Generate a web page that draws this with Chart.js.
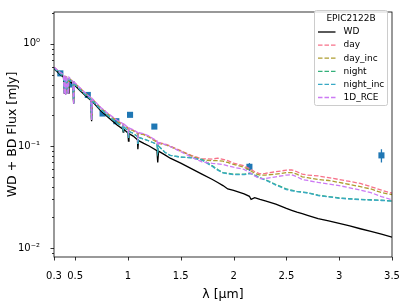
<!DOCTYPE html>
<html>
<head>
<meta charset="utf-8">
<script src="https://cdn.jsdelivr.net/npm/chart.js@4.4.1/dist/chart.umd.min.js"></script>
<style>
  html, body { margin: 0; padding: 0; background: #fff; }
  #sed { display: block; }
</style>
</head>
<body>
<canvas id="sed" width="407" height="302"></canvas>
<script>
// wavelength grid [micron] shared by the WD and the WD+BD models
const wave = [
  0.300, 0.360, 0.390, 0.397, 0.403, 0.410, 0.418, 0.434, 0.442, 0.478,
  0.486, 0.494, 0.550, 0.620, 0.648, 0.656, 0.664, 0.740, 0.820, 0.900,
  0.950, 0.955, 0.960, 1.000, 1.005, 1.010, 1.050, 1.090, 1.094, 1.100,
  1.150, 1.200, 1.275, 1.282, 1.290, 1.350, 1.400, 1.500, 1.600, 1.700,
  1.800, 1.850, 1.900, 1.945, 2.000, 2.100, 2.150, 2.166, 2.200, 2.250,
  2.300, 2.400, 2.500, 2.550, 2.600, 2.650, 2.700, 2.800, 2.900, 3.000,
  3.100, 3.200, 3.300, 3.400, 3.500
];

const wdFlux = [
  0.570, 0.500, 0.472, 0.330, 0.465, 0.320, 0.455, 0.330, 0.440, 0.405,
  0.260, 0.396, 0.345, 0.296, 0.280, 0.175, 0.272, 0.222, 0.188, 0.160,
  0.147, 0.137, 0.146, 0.134, 0.112, 0.132, 0.125, 0.115, 0.093, 0.113,
  0.106, 0.100, 0.090, 0.069, 0.089, 0.082, 0.076, 0.068, 0.060, 0.053,
  0.047, 0.044, 0.041, 0.0380, 0.0368, 0.034, 0.0322, 0.0300, 0.0312, 0.0300,
  0.0290, 0.0270, 0.0245, 0.0235, 0.0226, 0.0218, 0.0210, 0.0195, 0.0185, 0.0175,
  0.0165, 0.0155, 0.0146, 0.0137, 0.0128
];

const dayFlux = [
  0.590, 0.520, 0.495, 0.340, 0.490, 0.330, 0.480, 0.340, 0.465, 0.425,
  0.265, 0.415, 0.365, 0.312, 0.296, 0.180, 0.288, 0.238, 0.203, 0.176,
  0.165, 0.158, 0.164, 0.151, 0.137, 0.149, 0.143, 0.135, 0.121, 0.134,
  0.131, 0.124, 0.111, 0.100, 0.108, 0.105, 0.100, 0.090, 0.081, 0.075,
  0.0745, 0.076, 0.074, 0.072, 0.068, 0.064, 0.060, 0.059, 0.056, 0.0535,
  0.054, 0.056, 0.058, 0.0585, 0.056, 0.053, 0.052, 0.051, 0.049, 0.047,
  0.045, 0.043, 0.040, 0.037, 0.0345
];

const dayIncFlux = [
  0.588, 0.518, 0.493, 0.338, 0.488, 0.328, 0.478, 0.338, 0.463, 0.423,
  0.264, 0.413, 0.363, 0.310, 0.294, 0.179, 0.286, 0.236, 0.201, 0.174,
  0.163, 0.156, 0.162, 0.149, 0.135, 0.147, 0.141, 0.133, 0.119, 0.132,
  0.129, 0.122, 0.109, 0.098, 0.106, 0.103, 0.099, 0.089, 0.080, 0.073,
  0.072, 0.072, 0.071, 0.069, 0.066, 0.062, 0.058, 0.057, 0.054, 0.052,
  0.052, 0.053, 0.055, 0.055, 0.053, 0.050, 0.049, 0.047, 0.046, 0.044,
  0.042, 0.040, 0.038, 0.035, 0.0334
];

const nightFlux = [
  0.580, 0.510, 0.482, 0.335, 0.476, 0.325, 0.466, 0.335, 0.451, 0.414,
  0.262, 0.405, 0.354, 0.303, 0.287, 0.177, 0.279, 0.229, 0.195, 0.167,
  0.155, 0.145, 0.154, 0.141, 0.120, 0.139, 0.133, 0.124, 0.103, 0.122,
  0.117, 0.112, 0.104, 0.088, 0.100, 0.087, 0.081, 0.078, 0.077, 0.074,
  0.064, 0.059, 0.055, 0.054, 0.053, 0.053, 0.054, 0.054, 0.052, 0.049,
  0.047, 0.042, 0.038, 0.037, 0.036, 0.0355, 0.035, 0.033, 0.032, 0.031,
  0.0305, 0.030, 0.0298, 0.0295, 0.029
];

const nightIncFlux = [
  0.580, 0.510, 0.482, 0.335, 0.476, 0.325, 0.466, 0.335, 0.451, 0.414,
  0.262, 0.405, 0.354, 0.303, 0.287, 0.177, 0.279, 0.229, 0.195, 0.167,
  0.155, 0.145, 0.154, 0.141, 0.120, 0.139, 0.133, 0.124, 0.103, 0.122,
  0.117, 0.112, 0.104, 0.088, 0.100, 0.087, 0.081, 0.078, 0.0765, 0.073,
  0.063, 0.058, 0.0545, 0.0535, 0.0525, 0.0525, 0.0535, 0.0535, 0.0515, 0.0485,
  0.0465, 0.0415, 0.0375, 0.0365, 0.0358, 0.0352, 0.0347, 0.0328, 0.0318, 0.0308,
  0.0303, 0.0299, 0.0296, 0.0293, 0.0289
];

const rceFlux = [
  0.590, 0.525, 0.500, 0.320, 0.495, 0.315, 0.485, 0.320, 0.470, 0.430,
  0.255, 0.420, 0.368, 0.314, 0.298, 0.180, 0.290, 0.240, 0.205, 0.178,
  0.166, 0.159, 0.165, 0.152, 0.138, 0.150, 0.144, 0.136, 0.122, 0.135,
  0.132, 0.125, 0.112, 0.101, 0.108, 0.104, 0.099, 0.088, 0.078, 0.070,
  0.0675, 0.067, 0.066, 0.064, 0.062, 0.059, 0.055, 0.054, 0.051, 0.048,
  0.048, 0.050, 0.052, 0.0522, 0.050, 0.047, 0.046, 0.044, 0.0425, 0.041,
  0.039, 0.037, 0.035, 0.032, 0.0298
];

// photometry
const photWave = [0.36, 0.47, 0.62, 0.76, 0.89, 1.02, 1.25, 2.15, 3.40];
const photFlux = [0.514, 0.400, 0.316, 0.208, 0.175, 0.202, 0.155, 0.0626, 0.081];
const photErr  = [0.004, 0.004, 0.003, 0.002, 0.002, 0.002, 0.002, 0.0055, 0.012];

const xTicks = [0.3, 0.5, 1, 1.5, 2, 2.5, 3, 3.5];
const yTicks = [0.01, 0.1, 1];
const yTickLabels = ['10\u207B\u00B2', '10\u207B\u00B9', '10\u2070'];

const legendTitle = 'EPIC2122B';
const legendOrder = ['WD', 'day', 'day_inc', 'night', 'night_inc', '1D_RCE'];

const FONT = "'DejaVu Sans', sans-serif";
Chart.defaults.font.family = FONT;
Chart.defaults.color = '#000';

function pts(ys) {
  return wave.map((x, i) => ({ x: x, y: ys[i] }));
}

function model(label, ys, color) {
  return {
    label: label,
    data: pts(ys),
    showLine: true,
    borderColor: color,
    borderWidth: 1.3,
    borderDash: [4.5, 2],
    pointRadius: 0,
    fill: false
  };
}

// errorbars under the squares
const errorBars = {
  id: 'errorBars',
  beforeDatasetsDraw(chart) {
    const { ctx, scales: { x, y } } = chart;
    ctx.save();
    ctx.strokeStyle = '#1f77b4';
    ctx.lineWidth = 1.3;
    photWave.forEach((w, i) => {
      const px = x.getPixelForValue(w);
      ctx.beginPath();
      ctx.moveTo(px, y.getPixelForValue(photFlux[i] - photErr[i]));
      ctx.lineTo(px, y.getPixelForValue(photFlux[i] + photErr[i]));
      ctx.stroke();
    });
    ctx.restore();
  }
};

// frame, matplotlib-style ticks and the legend box
const frame = {
  id: 'frame',
  afterDraw(chart) {
    const { ctx, chartArea: a, scales: { x, y } } = chart;
    ctx.save();
    ctx.strokeStyle = '#000';
    ctx.lineWidth = 0.8;
    ctx.strokeRect(a.left, a.top, a.right - a.left, a.bottom - a.top);

    ctx.beginPath();
    xTicks.forEach(v => {
      const px = Math.round(x.getPixelForValue(v)) + 0.5;
      ctx.moveTo(px, a.bottom);
      ctx.lineTo(px, a.bottom + 3.5);
    });
    for (let e = -3; e <= 0; e++) {
      for (let m = 1; m <= 9; m++) {
        const v = m * Math.pow(10, e);
        if (v < y.min || v > y.max) continue;
        const py = Math.round(y.getPixelForValue(v)) + 0.5;
        ctx.moveTo(a.left, py);
        ctx.lineTo(a.left - (m === 1 ? 3.5 : 2), py);
      }
    }
    ctx.stroke();

    // legend
    const bx = 314.5, by = 10.5, bw = 73, bh = 95;
    ctx.fillStyle = 'rgba(255,255,255,0.8)';
    ctx.strokeStyle = '#cccccc';
    ctx.lineWidth = 1;
    ctx.beginPath();
    ctx.roundRect(bx, by, bw, bh, 2);
    ctx.fill();
    ctx.stroke();

    ctx.fillStyle = '#000';
    ctx.font = '9px ' + FONT;
    ctx.textAlign = 'center';
    ctx.textBaseline = 'middle';
    ctx.fillText(legendTitle, bx + bw / 2, by + 8);
    ctx.textAlign = 'left';
    legendOrder.forEach((lab, i) => {
      const ds = chart.data.datasets.find(d => d.label === lab);
      const ly = by + 21.5 + i * 13.1;
      ctx.strokeStyle = ds.borderColor;
      ctx.lineWidth = 1.3;
      ctx.setLineDash(ds.borderDash || []);
      ctx.beginPath();
      ctx.moveTo(bx + 3.5, ly);
      ctx.lineTo(bx + 21, ly);
      ctx.stroke();
      ctx.setLineDash([]);
      ctx.fillText(lab, bx + 29, ly);
    });
    ctx.restore();
  }
};

new Chart(document.getElementById('sed'), {
  type: 'scatter',
  data: {
    datasets: [
      model('1D_RCE', rceFlux, '#cc7af4'),
      model('night_inc', nightIncFlux, '#38a9c5'),
      model('night', nightFlux, '#33b07a'),
      model('day_inc', dayIncFlux, '#ae9d31'),
      model('day', dayFlux, '#f77189'),
      {
        label: 'WD',
        data: pts(wdFlux),
        showLine: true,
        borderColor: '#000000',
        borderWidth: 1.3,
        pointRadius: 0,
        fill: false
      },
      {
        label: 'phot',
        data: photWave.map((w, i) => ({ x: w, y: photFlux[i] })),
        showLine: false,
        pointStyle: 'rect',
        pointRadius: 4.3,
        pointBackgroundColor: '#1f77b4',
        pointBorderWidth: 0,
        borderColor: '#1f77b4'
      }
    ]
  },
  options: {
    responsive: false,
    animation: false,
    layout: { padding: { left: 0, right: 15, top: 5, bottom: 0 } },
    plugins: {
      legend: { display: false },
      tooltip: { enabled: false }
    },
    scales: {
      x: {
        type: 'linear',
        min: 0.3,
        max: 3.5,
        afterBuildTicks(scale) { scale.ticks = xTicks.map(v => ({ value: v })); },
        afterFit(scale) { scale.height = 45; },
        grid: { display: false },
        border: { display: false },
        ticks: {
          autoSkip: false,
          maxRotation: 0,
          padding: 5,
          font: { size: 10 },
          callback: v => String(v)
        },
        title: {
          display: true,
          text: '\u03BB [\u03BCm]',
          font: { size: 12.5 },
          padding: { top: 0, bottom: 0 }
        }
      },
      y: {
        type: 'logarithmic',
        min: 0.0082,
        max: 2.05,
        afterBuildTicks(scale) { scale.ticks = yTicks.map(v => ({ value: v })); },
        afterFit(scale) { scale.width = 54; },
        grid: { display: false },
        border: { display: false },
        ticks: {
          autoSkip: false,
          padding: 6,
          font: { size: 10 },
          callback: (v) => {
            const k = yTicks.findIndex(t => Math.abs(t - v) < t * 1e-6);
            return k >= 0 ? yTickLabels[k] : '';
          }
        },
        title: {
          display: true,
          text: 'WD + BD Flux [mJy]',
          font: { size: 12.5 },
          padding: { top: 5, bottom: 0 }
        }
      }
    }
  },
  plugins: [errorBars, frame]
});
</script>
</body>
</html>
